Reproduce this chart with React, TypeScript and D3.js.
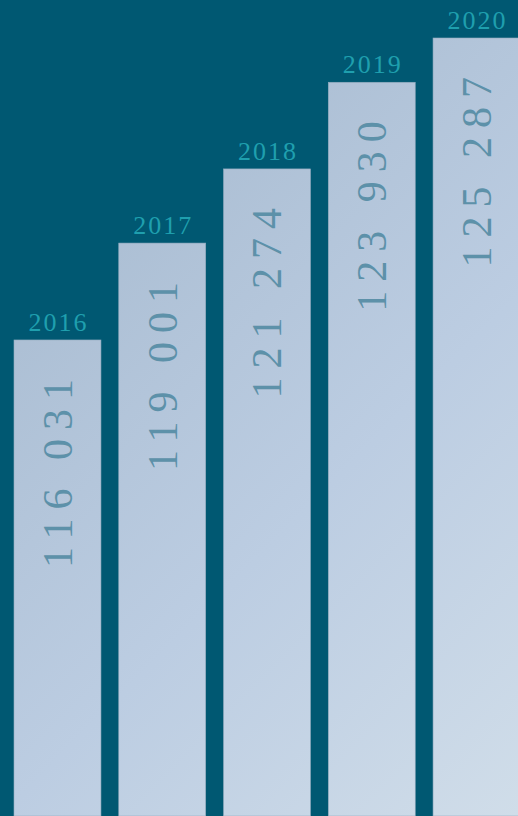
import React from 'react';
import * as d3 from 'd3';

const years = ['2016', '2017', '2018', '2019', '2020'];
const values = [116031, 119001, 121274, 123930, 125287];
const labels = ['116 031', '119 001', '121 274', '123 930', '125 287'];

const width = 518;
const height = 816;

const App: React.FC = () => {
  const x = d3.scaleBand<string>()
    .domain(years)
    .range([14, 520])
    .paddingInner(0.17)
    .paddingOuter(0);

  const y = d3.scaleLinear()
    .domain([101440, 125287])
    .range([height, 38]);

  const font = '"Liberation Serif", "DejaVu Serif", serif';

  return (
    <svg
      width={width}
      height={height}
      style={{ position: 'absolute', left: 0, top: 0, display: 'block' }}
    >
      <defs>
        <linearGradient id="barFill" gradientUnits="userSpaceOnUse" x1={0} y1={300} x2={518} y2={816}>
          <stop offset="0%" stopColor="#abbed3" />
          <stop offset="50%" stopColor="#bccde2" />
          <stop offset="100%" stopColor="#d0dde9" />
        </linearGradient>
      </defs>
      <rect width={width} height={height} fill="#005872" />
      {years.map((yr, i) => {
        const bx = x(yr) as number;
        const bw = x.bandwidth();
        const top = y(values[i]);
        const cx = bx + bw / 2;
        return (
          <g key={yr}>
            <rect x={bx} y={top} width={bw} height={height - top} fill="url(#barFill)" stroke="#93abbf" strokeWidth={0.6} />
            <text
              x={cx + 1}
              y={top - 9}
              textAnchor="middle"
              fill="#1f9fae"
              fontFamily={font}
              fontSize={26}
              letterSpacing={2}
              style={{ fontVariantNumeric: 'oldstyle-nums' }}
            >
              {yr}
            </text>
            <text
              transform={`translate(${cx},${top + 30}) rotate(-90)`}
              textAnchor="end"
              dy="0.34em"
              fill="#5d91a9"
              fontFamily={font}
              fontSize={42}
              letterSpacing={9}
              style={{ fontVariantNumeric: 'oldstyle-nums' }}
            >
              {labels[i]}
            </text>
          </g>
        );
      })}
    </svg>
  );
};

export default App;
